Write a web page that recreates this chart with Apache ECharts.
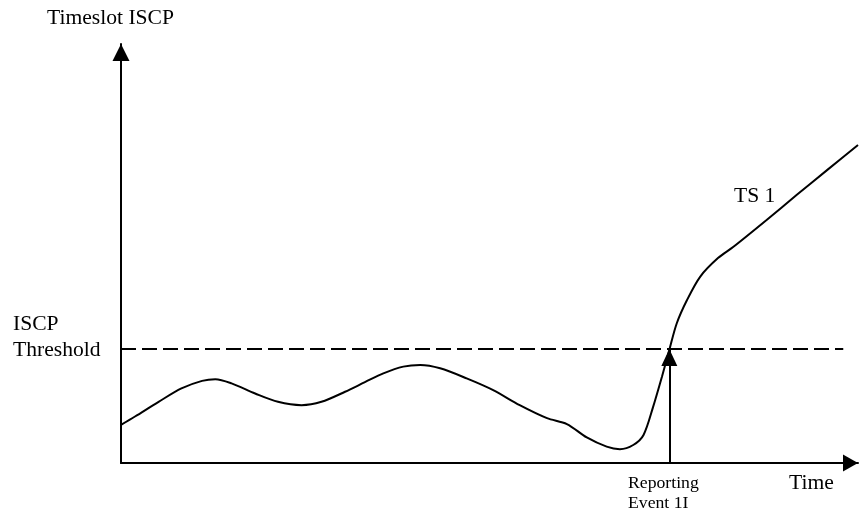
<!DOCTYPE html>
<html>
<head>
<meta charset="utf-8">
<script src="https://cdn.jsdelivr.net/npm/echarts@6/dist/echarts.min.js"></script>
<style>
html, body { margin: 0; padding: 0; background: #fff; }
#main { width: 859px; height: 511px; }
</style>
</head>
<body>
<div id="main"></div>
<script>
var myChart = echarts.init(document.getElementById('main'));

// time (0-100) and ISCP level (0-100)
var ts1Time = [0, 1.9, 5.1, 8.2, 11, 12.8, 15, 18.2, 21.3, 24.5, 27.2, 30.4, 33.1, 35.6, 38.3, 40.6,
	43.3, 46.9, 50.5, 54.1, 57.8, 60.5, 63.2, 65.9, 67.7, 69.5, 70.9, 72.2, 73.4, 74.4, 75.4,
	76.8, 78.6, 81, 83.1, 87.6, 91.7, 95.8, 100];
var ts1Level = [9.1, 11.1, 14.6, 17.8, 19.6, 20, 19, 16.6, 14.6, 13.8, 14.6, 17, 19.3, 21.4, 23, 23.4,
	22.6, 20.2, 17.4, 13.8, 10.7, 9.3, 6.1, 3.9, 3.3, 4.3, 6.7, 13.4, 20.6, 27, 33.3,
	38.9, 44.5, 48.9, 51.6, 58, 64, 69.9, 75.9];
var threshold = 27.2;
var thresholdSpan = [0, 98];
var eventTime = 74.4;

var ts1 = ts1Time.map(function (t, i) { return [t, ts1Level[i]]; });

var font = 'Liberation Serif, Times New Roman, serif';
var axisBase = {
	type: 'value',
	min: 0,
	max: 100,
	splitLine: { show: false },
	axisTick: { show: false },
	axisLabel: { show: false }
};

var option = {
	animation: false,
	backgroundColor: '#fff',
	grid: { left: 121, right: 1, top: 44, bottom: 48 },
	xAxis: Object.assign({}, axisBase, {
		axisLine: {
			show: true,
			symbol: ['none', 'triangle'],
			symbolSize: [17, 15],
			symbolOffset: [0, -7.5],
			lineStyle: { color: '#000', width: 2 }
		}
	}),
	yAxis: Object.assign({}, axisBase, {
		axisLine: {
			show: true,
			symbol: ['none', 'triangle'],
			symbolSize: [17, 17],
			symbolOffset: [0, -8.5],
			lineStyle: { color: '#000', width: 2 }
		}
	}),
	graphic: [
		{ type: 'text', left: 47, top: 7, style: { text: 'Timeslot ISCP', font: '21.6px ' + font, fill: '#000' } },
		{ type: 'text', left: 13, top: 311, style: { text: 'ISCP\nThreshold', font: '21.6px ' + font, fill: '#000', align: 'center', lineHeight: 26, x: 44 } },
		{ type: 'text', left: 734, top: 185, style: { text: 'TS 1', font: '21.6px ' + font, fill: '#000' } },
		{ type: 'text', left: 789, top: 472, style: { text: 'Time', font: '21.6px ' + font, fill: '#000' } },
		{ type: 'text', left: 628, top: 473, style: { text: 'Reporting\nEvent 1I', font: '17.7px ' + font, fill: '#000', lineHeight: 20 } }
	],
	series: [
		{
			type: 'line',
			data: ts1,
			smooth: 0.3,
			showSymbol: false,
			lineStyle: { color: '#000', width: 2 }
		},
		{
			type: 'line',
			data: thresholdSpan.map(function (t) { return [t, threshold]; }),
			showSymbol: false,
			lineStyle: { color: '#000', width: 2, type: [15, 6] },
			markLine: {
				silent: true,
				symbol: ['none', 'triangle'],
				symbolSize: [16, 17],
				symbolOffset: [[0, 0], [0, 8.5]],
				label: { show: false },
				lineStyle: { color: '#000', width: 2, type: 'solid' },
				data: [[{ coord: [eventTime, 0] }, { coord: [eventTime, threshold] }]]
			}
		}
	]
};
myChart.setOption(option);
</script>
</body>
</html>
